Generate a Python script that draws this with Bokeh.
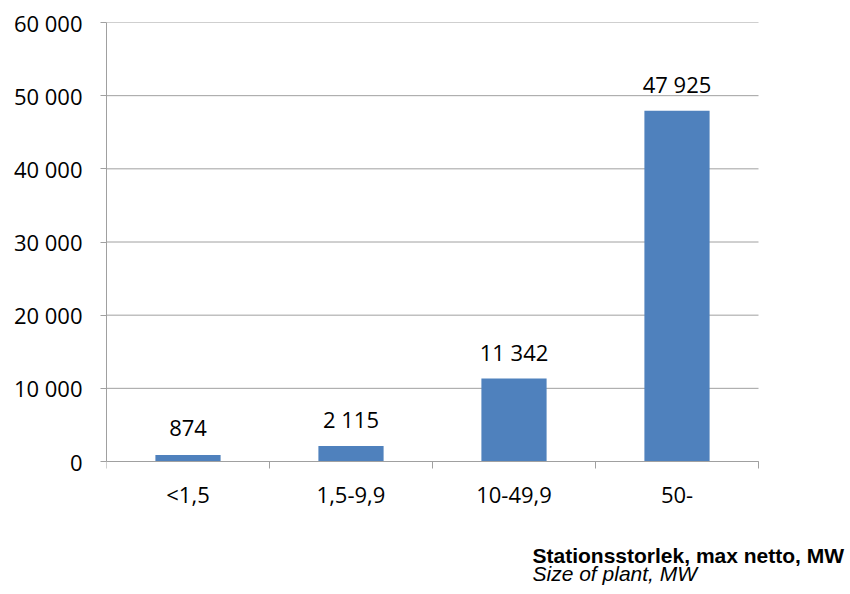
from bokeh.plotting import figure
from bokeh.models import ColumnDataSource, FixedTicker, Label, Range1d, LinearAxis
from bokeh.core.properties import value
from bokeh.embed import file_html
from bokeh.resources import INLINE

# Plant size classes and installed capacity (MW)
categories = ["<1,5", "1,5-9,9", "10-49,9", "50-"]
capacity = [874, 2115, 11342, 47925]
y_ticks = [0, 10000, 20000, 30000, 40000, 50000, 60000]


def fmt(v):
    return f"{v:,}".replace(",", " ")


W, H = 850, 594
LEFT, TOP = 106, 22
PLOT_RIGHT, PLOT_BOTTOM = 758, 461   # extent of the value area in pixels
Y_MAX = 60000
n = len(categories)

# The frame runs to the canvas bottom/right so the caption can live inside it;
# the ranges are stretched so the value area keeps its intended pixel extent.
px_per_unit_y = (PLOT_BOTTOM - TOP) / Y_MAX
y_start = -(H - PLOT_BOTTOM) / px_per_unit_y
px_per_cat = (PLOT_RIGHT - LEFT) / n
x_end = (W - LEFT) / px_per_cat

x_centers = [i + 0.5 for i in range(n)]
source = ColumnDataSource(dict(
    x=x_centers,
    top=capacity,
    label=[fmt(v) for v in capacity],
))

GRAY = "#A0A0A0"
FONT = "Open Sans"
SIZE = "22px"

p = figure(width=W, height=H, output_backend="svg", toolbar_location=None,
           x_range=Range1d(0, x_end), y_range=Range1d(y_start, Y_MAX),
           x_axis_location=None,
           min_border_left=LEFT, min_border_right=0,
           min_border_top=TOP, min_border_bottom=0)
p.outline_line_color = None
p.background_fill_color = "white"
p.border_fill_color = "white"
p.xgrid.grid_line_color = None
p.ygrid.grid_line_color = None

# horizontal gridlines across the category area
p.segment(x0=[0] * len(y_ticks), x1=[n] * len(y_ticks), y0=y_ticks, y1=y_ticks,
          line_color=GRAY, line_width=1)

p.vbar(x="x", top="top", width=0.4, source=source,
       fill_color="#4F81BD", line_color=None)

p.text(x="x", y="top", text="label", source=source,
       text_font=value(FONT), text_font_size=SIZE, text_color="black",
       text_align="center", text_baseline="alphabetic", y_offset=-27)

# x axis sits at value 0: labels at category centres, ticks at boundaries
xa = LinearAxis(fixed_location=0, bounds=(0, n))
xa.ticker = FixedTicker(ticks=x_centers, minor_ticks=list(range(n + 1)))
xa.major_label_overrides = {c: lab for c, lab in zip(x_centers, categories)}
xa.major_tick_out = 0
xa.major_tick_in = 0
xa.minor_tick_out = 7
xa.minor_tick_in = 0
xa.minor_tick_line_color = GRAY
xa.axis_line_color = GRAY
xa.major_label_text_font = FONT
xa.major_label_text_font_size = SIZE
xa.major_label_text_color = "black"
xa.major_label_standoff = 10
p.add_layout(xa, "below")

ya = p.yaxis[0]
ya.bounds = (0, Y_MAX)
ya.ticker = FixedTicker(ticks=y_ticks, minor_ticks=[])
ya.major_label_overrides = {t: fmt(t) for t in y_ticks}
ya.major_tick_out = 6
ya.major_tick_in = 0
ya.major_tick_line_color = GRAY
ya.axis_line_color = GRAY
ya.major_label_text_font = FONT
ya.major_label_text_font_size = SIZE
ya.major_label_text_color = "black"
ya.major_label_standoff = 18

# axis caption under the chart, Swedish and English
p.add_layout(Label(x=426, y=39, x_units="screen", y_units="screen",
                   text="Stationsstorlek, max netto, MW", text_baseline="alphabetic",
                   text_font="Liberation Sans", text_font_style="bold",
                   text_font_size="21px", text_color="black"))
p.add_layout(Label(x=426, y=21, x_units="screen", y_units="screen",
                   text="Size of plant, MW", text_baseline="alphabetic",
                   text_font="Liberation Sans", text_font_style="italic",
                   text_font_size="21px", text_color="black"))

open("out.html", "w").write(file_html(p, INLINE))
